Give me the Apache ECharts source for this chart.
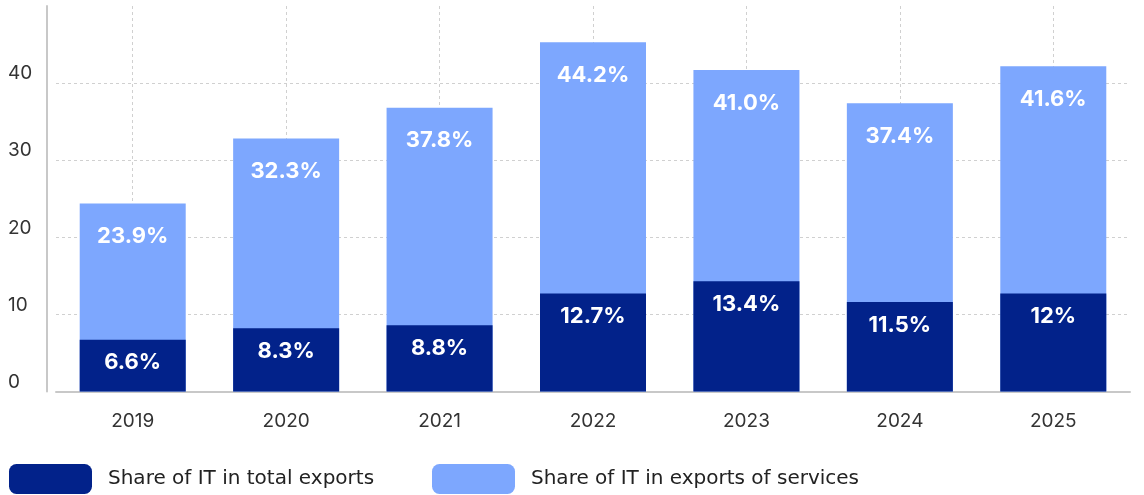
<!DOCTYPE html>
<html>
<head>
<meta charset="utf-8">
<script src="https://cdn.jsdelivr.net/npm/echarts@6/dist/echarts.min.js"></script>
<style>
  html, body { margin: 0; padding: 0; background: #fff; }
  #chart { width: 1144px; height: 495px; }
</style>
</head>
<body>
<div id="chart"></div>
<script>
const years = ['2019', '2020', '2021', '2022', '2023', '2024', '2025'];
// bar heights as drawn in the picture
const totalExports = [6.7, 8.2, 8.6, 12.7, 14.3, 11.6, 12.7];
const servicesExports = [24.4, 32.8, 36.8, 45.3, 41.7, 37.4, 42.2];
// printed labels
const totalLabels = ['6.6%', '8.3%', '8.8%', '12.7%', '13.4%', '11.5%', '12%'];
const servicesLabels = ['23.9%', '32.3%', '37.8%', '44.2%', '41.0%', '37.4%', '41.6%'];

const DARK = '#02228A';
const LIGHT = '#7DA7FE';
const FONT = 'Inter, "Noto Sans", sans-serif';
const LEGEND_FONT = '"DejaVu Sans", Inter, sans-serif';

const chart = echarts.init(document.getElementById('chart'));

const legendBase = {
  top: 464,
  padding: 0,
  itemWidth: 83,
  itemHeight: 30,
  icon: 'roundRect',
  textStyle: {
    fontFamily: LEGEND_FONT,
    fontSize: 20,
    color: '#222',
    padding: [5, 0, 0, 11],
  },
};

const option = {
  backgroundColor: '#fff',
  animation: false,
  textStyle: { fontFamily: FONT },
  grid: {
    left: 56,
    right: 14,
    top: 6,
    bottom: 103.5,
  },
  legend: [
    Object.assign({}, legendBase, { left: 9, data: ['Share of IT in total exports'] }),
    Object.assign({}, legendBase, { left: 432, data: ['Share of IT in exports of services'] }),
  ],
  xAxis: {
    type: 'category',
    data: years,
    axisLine: { lineStyle: { color: '#c8c8c8', width: 2 } },
    axisTick: { show: false },
    axisLabel: {
      color: '#333',
      fontSize: 19,
      margin: 20,
    },
    splitLine: {
      show: true,
      alignWithLabel: true,
      lineStyle: { color: '#d0d0d0', type: [3, 3], width: 1 },
    },
  },
  yAxis: {
    type: 'value',
    min: 0,
    max: 50,
    interval: 10,
    offset: 9,
    axisLine: { show: true, lineStyle: { color: '#c8c8c8', width: 2 } },
    axisTick: { show: false },
    axisLabel: {
      color: '#333',
      fontSize: 19,
      align: 'left',
      verticalAlign: 'bottom',
      margin: 39,
      showMaxLabel: false,
    },
    splitLine: {
      show: true,
      showMinLine: false,
      showMaxLine: false,
      lineStyle: { color: '#d0d0d0', type: [3, 3], width: 1 },
    },
  },
  series: [
    {
      name: 'Share of IT in exports of services',
      type: 'bar',
      barWidth: 106,
      data: servicesExports,
      itemStyle: { color: LIGHT },
      label: {
        show: true,
        position: 'insideTop',
        distance: 22,
        color: '#fff',
        fontFamily: FONT,
        fontWeight: 'bold',
        fontSize: 22,
        formatter: p => servicesLabels[p.dataIndex],
      },
    },
    {
      name: 'Share of IT in total exports',
      type: 'bar',
      barWidth: 106,
      barGap: '-100%',
      data: totalExports,
      itemStyle: { color: DARK },
      label: {
        show: true,
        position: 'insideTop',
        distance: 12,
        color: '#fff',
        fontFamily: FONT,
        fontWeight: 'bold',
        fontSize: 22,
        formatter: p => totalLabels[p.dataIndex],
      },
    },
  ],
};

chart.setOption(option);
</script>
</body>
</html>
